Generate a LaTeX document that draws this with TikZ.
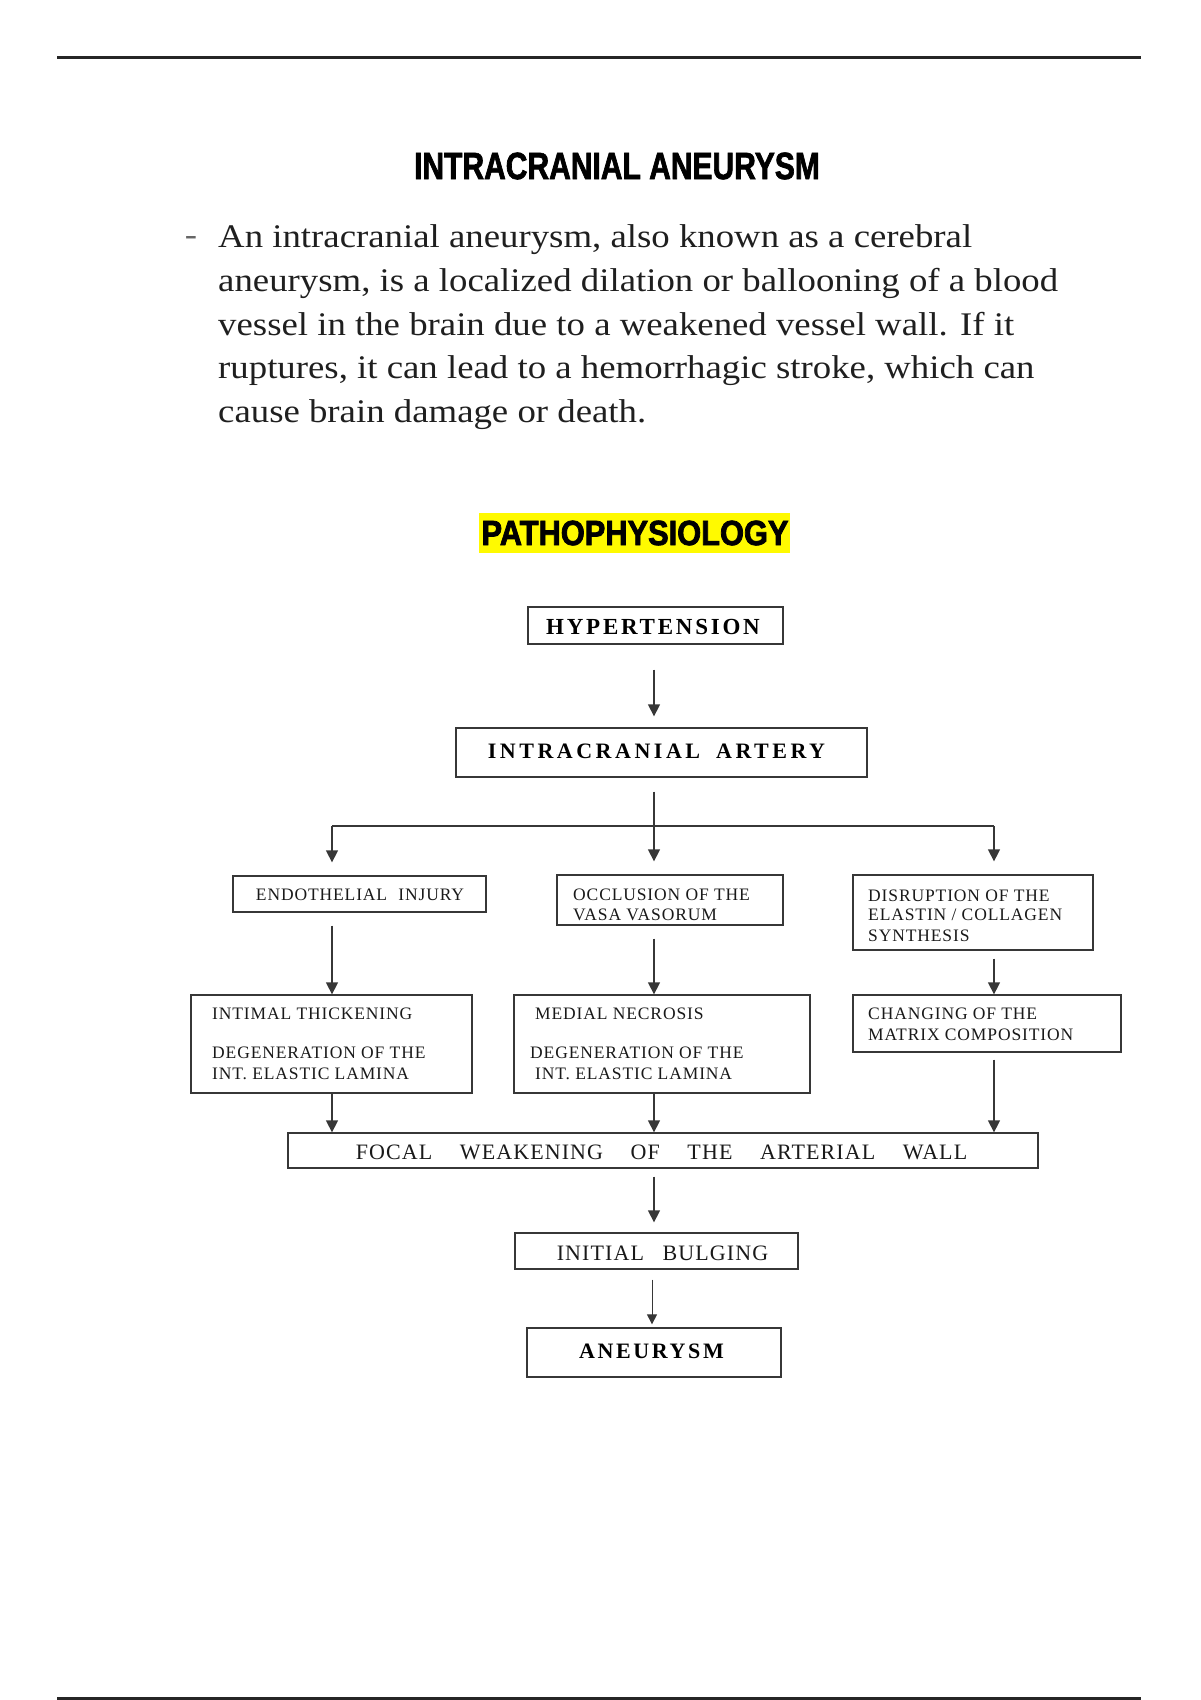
\documentclass[tikz,border=0pt]{standalone}
\usepackage{fontspec}
\usetikzlibrary{arrows.meta,calc}
\setmainfont{Liberation Serif}
\newfontfamily\parafont[FakeStretch=1.115]{Liberation Serif}
\newfontfamily\titlefont[FakeStretch=0.79,FakeBold=1.8]{Liberation Sans}
\newfontfamily\pathofont[FakeStretch=0.88,FakeBold=2.2]{Liberation Sans}
\newfontfamily\dbold[LetterSpace=12]{Liberation Serif}
\newfontfamily\dboldw[LetterSpace=16]{Liberation Serif}
\newfontfamily\dreg[LetterSpace=5]{Liberation Serif}
\newcommand\myfs[1]{\fontsize{#1}{#1}\selectfont}
\definecolor{hiyellow}{RGB}{255,250,0}
\definecolor{linegray}{RGB}{55,55,55}
\tikzset{
  box/.style={draw=linegray, line width=1.3pt, inner sep=0pt},
  arr/.style={draw=linegray, line width=1.3pt, -{Triangle[width=12pt,length=12pt]}},
  plain/.style={draw=linegray, line width=1.3pt},
  dtext/.style={inner sep=0pt, font=\dreg\myfs{17.5}, text=black!90},
  ptext/.style={inner sep=0pt, anchor=base west, font=\parafont\myfs{33}, text=black!88},
}
\begin{document}
\begin{tikzpicture}[x=1pt,y=-1pt]
\useasboundingbox (0,0) rectangle (1200,1700);
% rules
\draw[line width=3pt, black!85] (57,57) -- (1141,57);
\draw[line width=3pt, black!85] (57,1698) -- (1141,1698);
% title
\node[inner sep=0pt, font=\titlefont\bfseries\myfs{38}] (title) at (617,166) {INTRACRANIAL ANEURYSM};
% paragraph
\node[inner sep=0pt, font=\parafont\myfs{33}, text=black!60] (dash) at (191,241) {-};
\node[ptext] (l1) at (218,247) {An intracranial aneurysm, also known as a cerebral};
\node[ptext] (l2) at (218,291) {aneurysm, is a localized dilation or ballooning of a blood};
\node[ptext] (l3) at (218,335) {vessel in the brain due to a weakened vessel wall. If it};
\node[ptext] (l4) at (218,378) {ruptures, it can lead to a hemorrhagic stroke, which can};
\node[ptext] (l5) at (218,422) {cause brain damage or death.};
% pathophysiology
\fill[hiyellow] (479,513) rectangle (790,553);
\node[inner sep=0pt, font=\pathofont\bfseries\myfs{35}] (patho) at (635,533) {PATHOPHYSIOLOGY};
% boxes
\node[box, minimum width=255, minimum height=37] (hyp) at (655.5,625.5) {};
\node[inner sep=0pt, font=\dbold\bfseries\myfs{23}] (hypt) at (653,627) {HYPERTENSION};
\node[box, minimum width=411, minimum height=49] (art) at (661.5,752.5) {};
\node[inner sep=0pt, font=\dboldw\bfseries\myfs{22}] (artt) at (656.5,751) {INTRACRANIAL\hspace{7pt} ARTERY};

\node[box, minimum width=253, minimum height=36] (endo) at (359.5,894) {};
\node[dtext] (endot) at (360,895) {ENDOTHELIAL\hspace{6pt} INJURY};
\node[box, minimum width=226, minimum height=50] (occ) at (670,900) {};
\node[dtext, anchor=base west] (occt) at (573,900) {OCCLUSION OF THE};
\node[dtext, anchor=base west] (occt2) at (573,920) {VASA VASORUM};
\node[box, minimum width=240, minimum height=75] (dis) at (973,912.5) {};
\node[dtext, anchor=base west] (dist1) at (868,901) {DISRUPTION OF THE};
\node[dtext, anchor=base west] (dist2) at (868,920) {ELASTIN / COLLAGEN};
\node[dtext, anchor=base west] (dist3) at (868,941) {SYNTHESIS};

\node[box, minimum width=281, minimum height=98] (int) at (331.5,1044) {};
\node[dtext, anchor=base west] (intt1) at (212,1019) {INTIMAL THICKENING};
\node[dtext, anchor=base west] (intt2) at (212,1058) {DEGENERATION OF THE};
\node[dtext, anchor=base west] (intt3) at (212,1079) {INT. ELASTIC LAMINA};
\node[box, minimum width=296, minimum height=98] (med) at (662,1044) {};
\node[dtext, anchor=base west] (medt1) at (535,1019) {MEDIAL NECROSIS};
\node[dtext, anchor=base west] (medt2) at (530,1058) {DEGENERATION OF THE};
\node[dtext, anchor=base west] (medt3) at (535,1079) {INT. ELASTIC LAMINA};
\node[box, minimum width=268, minimum height=57] (chg) at (987,1023.5) {};
\node[dtext, anchor=base west] (chgt1) at (868,1019) {CHANGING OF THE};
\node[dtext, anchor=base west] (chgt2) at (868,1040) {MATRIX COMPOSITION};

\node[box, minimum width=750, minimum height=35] (foc) at (663,1150.5) {};
\node[dtext, font=\dreg\myfs{22}] (foct) at (661.5,1152) {FOCAL\hspace{21pt} WEAKENING\hspace{21pt} OF\hspace{21pt} THE\hspace{21pt} ARTERIAL\hspace{21pt} WALL};
\node[box, minimum width=283, minimum height=36] (ini) at (656.5,1251) {};
\node[dtext, font=\dreg\myfs{22}] (init) at (662.5,1253) {INITIAL\hspace{12pt} BULGING};
\node[box, minimum width=254, minimum height=49] (aneu) at (654,1352.5) {};
\node[inner sep=0pt, font=\dbold\bfseries\myfs{22}] (aneut) at (651.5,1351) {ANEURYSM};

% branch coordinates
\coordinate (bl) at (332,826);
\coordinate (bm) at (654,826);
\coordinate (br) at (994,826);

% connectors
\draw[arr, shorten <=25, shorten >=11] (hyp.south -| bm) -- (art.north -| bm);
\draw[plain, shorten <=14] (art.south -| bm) -- (bm);
\draw[plain] (bl) -- (br);
\draw[arr, shorten >=13] (bl) -- (endo.north -| bl);
\draw[arr, shorten >=13] (bm) -- (occ.north -| bm);
\draw[arr, shorten >=13] (br) -- (dis.north -| br);
\draw[arr, shorten <=13] (endo.south -| bl) -- (int.north -| bl);
\draw[arr, shorten <=13] (occ.south -| bm) -- (med.north -| bm);
\draw[arr, shorten <=8] (dis.south -| br) -- (chg.north -| br);
\draw[arr] (int.south -| bl) -- (foc.north -| bl);
\draw[arr] (med.south -| bm) -- (foc.north -| bm);
\draw[arr, shorten <=7] (chg.south -| br) -- (foc.north -| br);
\draw[arr, shorten <=8, shorten >=10] (foc.south -| bm) -- (ini.north -| bm);
\draw[draw=linegray, line width=1pt, -{Triangle[width=10pt,length=10pt]}, shorten <=10, shorten >=3] (ini.south -| 652,0) -- (aneu.north -| 652,0);
\end{tikzpicture}
\end{document}
